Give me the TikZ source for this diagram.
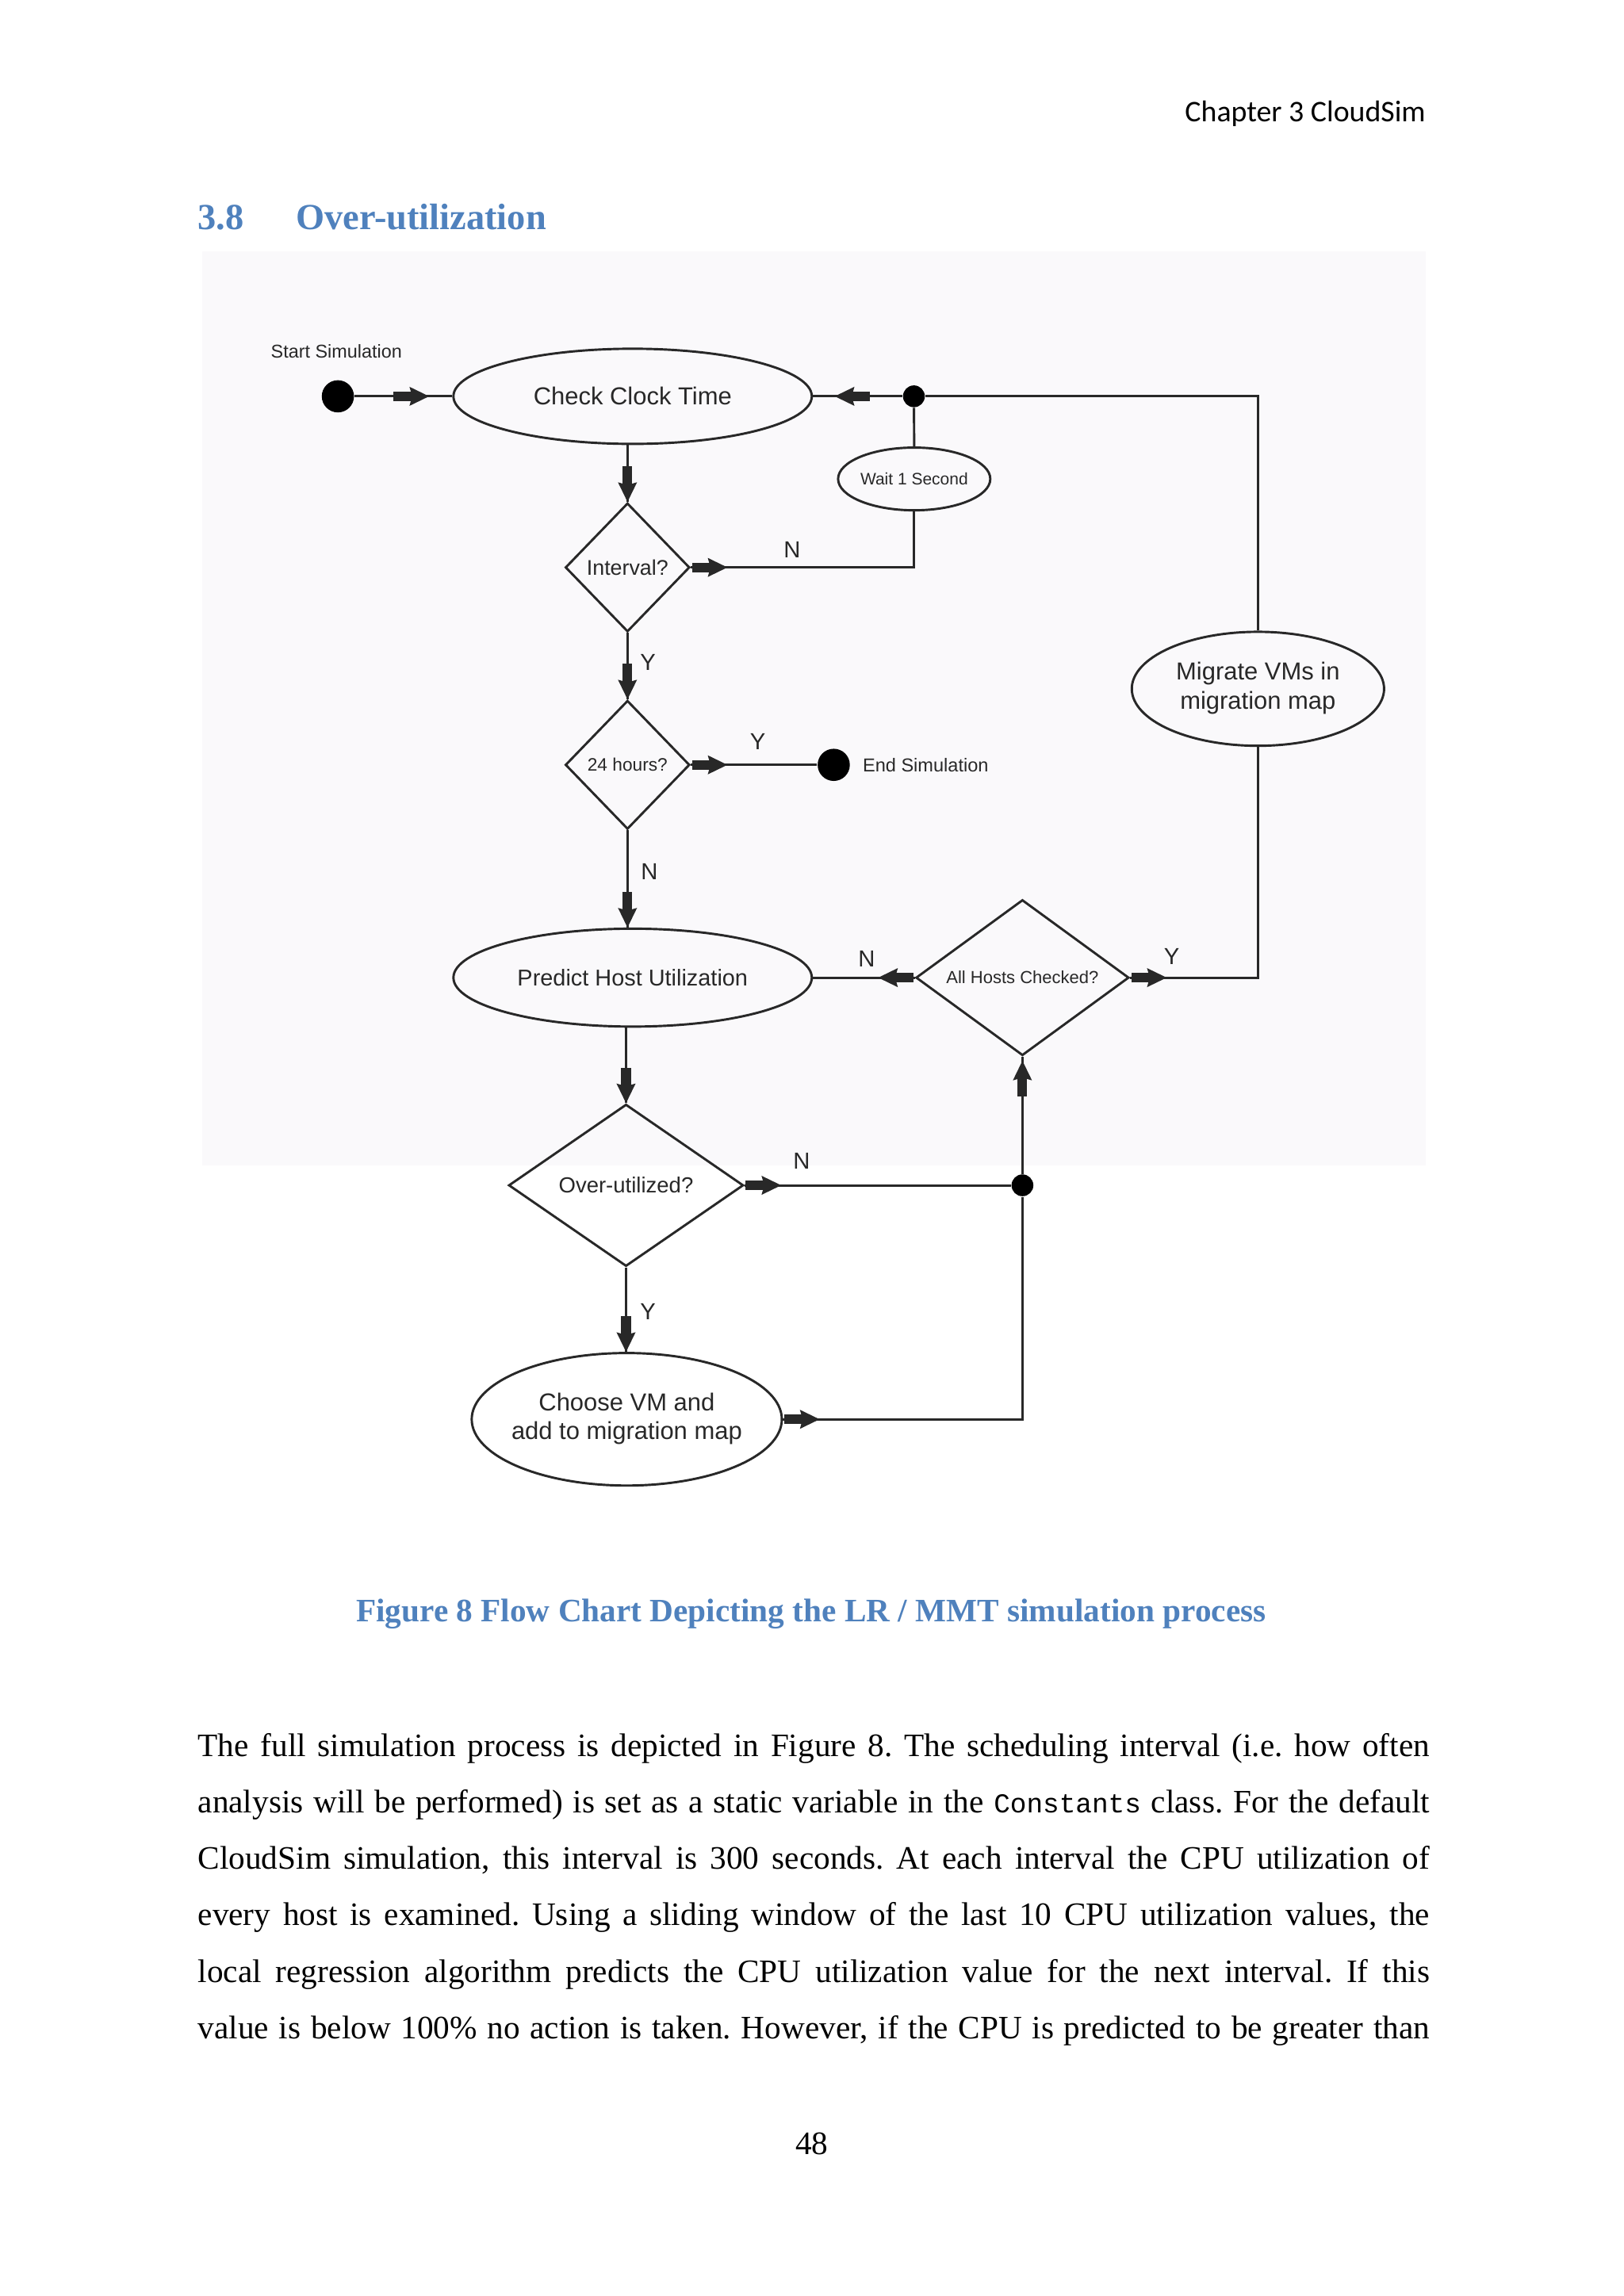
\documentclass[tikz,border=0pt]{standalone}
\usepackage{fontspec}
\setmainfont{Liberation Serif}
\newfontfamily\diagfont{Liberation Sans}
\newfontfamily\headfont{Carlito}
\newfontfamily\codefont{Liberation Mono}
\usetikzlibrary{shapes.geometric,decorations.markings,calc}
\definecolor{headblue}{RGB}{79,129,189}
\definecolor{inkc}{RGB}{40,40,40}
\definecolor{bgfig}{RGB}{250,249,251}
\newcommand\flowglyph{\fill[inkc] (-13pt,-1.75pt) rectangle (-6.2pt,1.75pt); \fill[inkc] (-7.2pt,-3.5pt) -- (0pt,0pt) -- (-7.2pt,3.5pt) -- (-6.2pt,0pt) -- cycle;}
\tikzset{
  conn/.style={draw=inkc, line width=0.85pt},
  tipend/.style={postaction={decorate}, decoration={markings, mark=at position 1 with {\flowglyph}}},
  tipstart/.style={postaction={decorate}, decoration={markings, mark=at position 13.4pt with {\flowglyph}}},
  tipback/.style={postaction={decorate}, decoration={markings, mark=at position -#1 with {\flowglyph}}},
  oval/.style={ellipse, draw=inkc, line width=0.85pt, inner sep=0pt, text=inkc, align=center},
  dia/.style={diamond, draw=inkc, line width=0.85pt, inner sep=0pt, text=inkc, align=center},
  bigdot/.style={circle, fill=black, inner sep=0pt, minimum size=11.8pt},
  jdot/.style={circle, fill=black, inner sep=0pt, minimum size=8pt},
  lbl/.style={inner sep=0pt, text=inkc, font=\diagfont\fontsize{8.5}{10}\selectfont},
  bodyline/.style={anchor=base west, inner sep=0pt, font=\fontsize{12}{14}\selectfont},
}
\frenchspacing
\begin{document}
\begin{tikzpicture}[x=0.53629pt, y=-0.53629pt]
\useasboundingbox (0,0) rectangle (1110,1570);
\fill[white] (0,0) rectangle (1110,1570);
\fill[bgfig] (138,172) rectangle (975,797);

% page header and heading
\node[anchor=base east, inner sep=0pt, font=\headfont\fontsize{11}{13}\selectfont] (hdr) at (975,83) {Chapter 3 CloudSim};
\node[anchor=base west, inner sep=0pt, text=headblue, font=\bfseries\fontsize{13.5}{16}\selectfont] (secnum) at (135,157) {3.8};
\node[anchor=base west, inner sep=0pt, text=headblue, font=\bfseries\fontsize{13.5}{16}\selectfont] (sectitle) at (202,157) {Over-utilization};

% diagram nodes
\node[bigdot] (start) at (231,271) {};
\node[inner sep=0pt, text=inkc, font=\diagfont\fontsize{6.8}{8}\selectfont] (startlbl) at (230,240.5) {Start Simulation};
\node[oval, minimum width=131.4pt, minimum height=34.9pt, font=\diagfont\fontsize{9}{10.5}\selectfont] (clock) at (432.5,271) {Check Clock Time};
\node[jdot] (j1) at (624.8,271) {};
\node[oval, minimum width=55.8pt, minimum height=23pt, font=\diagfont\fontsize{6.1}{7}\selectfont] (wait) at (625,327.5) {\makebox[0pt]{Wait 1 Second}};
\node[oval, minimum width=92.5pt, minimum height=41.8pt, font=\diagfont\fontsize{9}{10.5}\selectfont] (migrate) at (860,471) {\makebox[0pt]{\begin{tabular}{@{}c@{}}Migrate VMs in\\migration map\end{tabular}}};
\node[dia, minimum width=45.6pt, minimum height=47.2pt, font=\diagfont\fontsize{7.8}{9}\selectfont] (interval) at (429,388) {\makebox[0pt]{Interval?}};
\node[dia, minimum width=45.6pt, minimum height=47.2pt, font=\diagfont\fontsize{6.6}{8}\selectfont] (hours) at (429,523) {\makebox[0pt]{24 hours?}};
\node[bigdot] (enddot) at (570,523) {};
\node[anchor=west, inner sep=0pt, text=inkc, font=\diagfont\fontsize{6.85}{8}\selectfont] (endlbl) at (589.5,523) {End Simulation};
\node[oval, minimum width=131.4pt, minimum height=35.9pt, font=\diagfont\fontsize{8.4}{10}\selectfont] (predict) at (432.5,668.5) {\makebox[0pt]{Predict Host Utilization}};
\node[dia, minimum width=78.1pt, minimum height=57.1pt, font=\diagfont\fontsize{6.4}{8}\selectfont] (allhosts) at (699,668.5) {\makebox[0pt]{All Hosts Checked?}};
\node[dia, minimum width=86.1pt, minimum height=59.4pt, font=\diagfont\fontsize{8}{9.5}\selectfont] (overutil) at (428,810.5) {\makebox[0pt]{Over-utilized?}};
\node[jdot] (j2) at (699,810.5) {};
\node[oval, minimum width=113.7pt, minimum height=48.6pt, font=\diagfont\fontsize{9}{10.5}\selectfont] (choose) at (428.5,970.5) {\makebox[0pt]{\raisebox{2.5pt}{\begin{tabular}{@{}c@{}}Choose VM and\\add to migration map\end{tabular}}}};

% connectors
\draw[conn, tipback=8.5pt] (start) -- (clock);
\draw[conn, tipback=8pt] (j1) -- (clock);
\draw[conn, tipend] (interval.north |- clock.south) -- (interval.north);
\draw[conn, tipstart] (interval.east) -| (wait.south);
\draw[conn] (wait.north) -- (j1);
\draw[conn, tipend] (interval.south) -- (hours.north);
\draw[conn, tipstart] (hours.east) -- (enddot);
\draw[conn, tipend] (hours.south) -- (hours.south |- predict.north);
\draw[conn, tipstart] (allhosts.west) -- (predict.east);
\draw[conn, tipstart] (allhosts.east) -| (migrate.south);
\draw[conn] (migrate.north) |- (j1);
\draw[conn, tipend] (overutil.north |- predict.south) -- (overutil.north);
\draw[conn, tipstart] (overutil.east) -- (j2);
\draw[conn, tipback=1.5pt] (j2) -- (allhosts.south);
\draw[conn, tipend] (overutil.south) -- (overutil.south |- choose.north);
\draw[conn, tipstart] (choose.east) -| (j2);

% branch labels
\node[lbl] (nint) at (541.5,376) {N};
\node[lbl] (yint) at (443,453) {Y};
\node[lbl] (yhrs) at (518,507) {Y};
\node[lbl] (nhrs) at (444,596) {N};
\node[lbl] (nall) at (592.5,655.5) {N};
\node[lbl] (yall) at (801,654) {Y};
\node[lbl] (nover) at (548,794) {N};
\node[lbl] (yover) at (443,897) {Y};

% caption
\node[anchor=base, inner sep=0pt, text=headblue, font=\bfseries\fontsize{12}{14}\selectfont] (cap) at (554.5,1109) {Figure 8 Flow Chart Depicting the LR / MMT simulation process};

% body text
\node[bodyline] (b1) at (135,1201) {\makebox[451.6pt][s]{The full simulation process is depicted in Figure 8. The scheduling interval (i.e. how often}};
\node[bodyline] (b2) at (135,1239.6) {\makebox[451.6pt][s]{analysis will be performed) is set as a static variable in the {\codefont\fontsize{10}{12}\selectfont Constants} class. For the default}};
\node[bodyline] (b3) at (135,1278.2) {\makebox[451.6pt][s]{CloudSim simulation, this interval is 300 seconds. At each interval the CPU utilization of}};
\node[bodyline] (b4) at (135,1316.8) {\makebox[451.6pt][s]{every host is examined. Using a sliding window of the last 10 CPU utilization values, the}};
\node[bodyline] (b5) at (135,1355.4) {\makebox[451.6pt][s]{local regression algorithm predicts the CPU utilization value for the next interval. If this}};
\node[bodyline] (b6) at (135,1394) {\makebox[451.6pt][s]{value is below 100\% no action is taken. However, if the CPU is predicted to be greater than}};

\node[anchor=base, inner sep=0pt, font=\fontsize{12}{14}\selectfont] (pg) at (555,1473) {48};
\end{tikzpicture}
\end{document}
